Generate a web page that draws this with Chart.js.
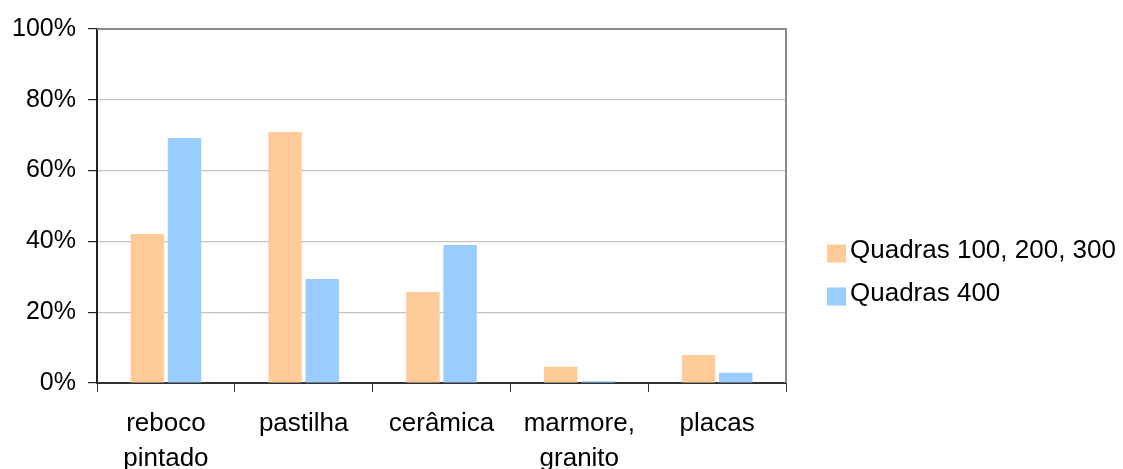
<!DOCTYPE html>
<html>
<head>
<meta charset="utf-8">
<style>
  html, body { margin: 0; padding: 0; background: #fff; }
  #wrap { width: 1123px; height: 469px; position: relative; }
</style>
<script src="https://cdn.jsdelivr.net/npm/chart.js@4"></script>
</head>
<body>
<div id="wrap"><canvas id="chart" width="1123" height="469"></canvas></div>
<script>
// Revestimento de fachada por grupo de quadras (percentual)
const categories = [['reboco', 'pintado'], 'pastilha', 'cerâmica', ['marmore,', 'granito'], 'placas'];
const seriesNames = ['Quadras 100, 200, 300', 'Quadras 400'];
const quadras100a300 = [42.1, 70.9, 25.7, 4.6, 7.9];
const quadras400 = [69.2, 29.4, 39.0, 0.5, 2.9];
const yTicks = [0, 20, 40, 60, 80, 100];

const FONT = "'Liberation Sans', Arial, sans-serif";

// Plot frame: grey top and right edges
const framePlugin = {
  id: 'frame',
  afterDatasetsDraw(chart) {
    const { ctx, chartArea: a } = chart;
    ctx.save();
    ctx.strokeStyle = '#8a8a8a';
    ctx.lineWidth = 2;
    ctx.beginPath();
    ctx.moveTo(a.left, a.top);
    ctx.lineTo(a.right, a.top);
    ctx.lineTo(a.right, a.bottom);
    ctx.stroke();
    ctx.restore();
  }
};

// Legend to the right of the plot
const sideLegend = {
  id: 'sideLegend',
  afterDraw(chart) {
    const { ctx } = chart;
    const x = 827, y0 = 254, step = 43, box = 19;
    ctx.save();
    ctx.font = '26px ' + FONT;
    ctx.textBaseline = 'middle';
    ctx.textAlign = 'left';
    chart.data.datasets.forEach((ds, i) => {
      const cy = y0 + i * step;
      ctx.fillStyle = ds.backgroundColor;
      ctx.fillRect(x, cy - box / 2, box, box - 1);
      ctx.fillStyle = '#000';
      ctx.fillText(ds.label, x + 23, cy - 3);
    });
    ctx.restore();
  }
};

new Chart(document.getElementById('chart'), {
  type: 'bar',
  data: {
    labels: categories,
    datasets: [
      { label: seriesNames[0], data: quadras100a300, backgroundColor: '#FFCC99' },
      { label: seriesNames[1], data: quadras400, backgroundColor: '#99CCFF' }
    ]
  },
  options: {
    responsive: false,
    devicePixelRatio: 1,
    animation: false,
    layout: { padding: { left: 0, top: 29, right: 337, bottom: 0 } },
    datasets: { bar: { categoryPercentage: 0.54, barPercentage: 0.9 } },
    plugins: { legend: { display: false }, tooltip: { enabled: false } },
    scales: {
      x: {
        grid: {
          display: true, drawOnChartArea: false, drawTicks: true,
          tickLength: 9, tickColor: '#333', offset: true
        },
        border: { display: true, color: '#333', width: 2 },
        ticks: {
          color: '#000', padding: 14, maxRotation: 0, autoSkip: false,
          font: { family: FONT, size: 26, lineHeight: 1.35 }
        },
        afterFit(scale) { scale.height = 86; }
      },
      y: {
        min: 0, max: 100,
        afterBuildTicks(scale) { scale.ticks = yTicks.map(v => ({ value: v })); },
        grid: {
          color: ctx => (ctx.tick && ctx.tick.value === 100) ? 'rgba(0,0,0,0)' : '#c4c4c4',
          lineWidth: 1.2, tickLength: 9, tickColor: '#222'
        },
        border: { display: true, color: '#222', width: 2 },
        ticks: {
          color: '#000', padding: 12,
          font: { family: FONT, size: 25 },
          callback: v => v + '%'
        },
        afterFit(scale) { scale.width = 97; }
      }
    }
  },
  plugins: [framePlugin, sideLegend]
});
</script>
</body>
</html>
